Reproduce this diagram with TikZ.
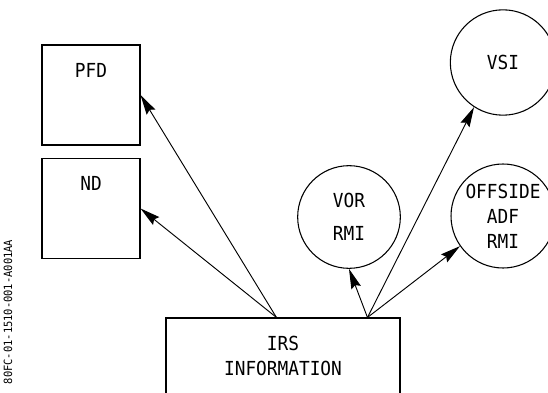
\documentclass[tikz,border=0pt]{standalone}
\usepackage{fontspec}
\newfontfamily\cad[FakeStretch=0.92]{DejaVu Sans Mono}
\usetikzlibrary{arrows.meta}
\begin{document}
\begin{tikzpicture}[x=0.75pt,y=-0.75pt,
  lbl/.style={font=\cad\fontsize{14.5}{18.75}\selectfont},
  boxnode/.style={draw,line width=0.8pt,minimum width=73.5pt,minimum height=75pt,inner sep=0pt},
  instr/.style={draw,circle,line width=0.8pt,minimum size=77pt,inner sep=0pt,align=center,lbl},
  conn/.style={line width=0.7pt,-{Stealth[length=15pt,width=7.5pt,inset=2pt]}}]
\clip (0,0) rectangle (548,392);
\fill[white] (0,0) rectangle (548,392);
% boxes
\node[boxnode,label={[anchor=north,inner sep=0pt,yshift=-14pt,lbl]north:PFD}] (pfd) at (91,95) {};
\node[boxnode,label={[anchor=north,inner sep=0pt,yshift=-13.5pt,lbl]north:ND}] (nd) at (91,208.5) {};
\node[boxnode,minimum width=175.5pt,minimum height=69pt,
  label={[anchor=north,inner sep=0pt,yshift=-14pt,lbl,align=center]north:IRS\\INFORMATION}] (irs) at (283,364) {};
% circles
\node[instr] (vor) at (349,217) {VOR\\[6pt]RMI};
\node[instr,minimum size=79pt] (vsi) at (503,62.5) {VSI};
\node[instr,minimum size=78pt] (off) at (503,216) {OFFSIDE\\ADF\\RMI};
% side reference text
\node[rotate=90,font=\cad\fontsize{8.5}{10}\selectfont,inner sep=0pt] (ref) at (8,312) {80FC-01-1510-001-A001AA};
% connectors
\draw[conn] ([xshift=83.25pt]irs.north west) -- (pfd.east);
\draw[conn] ([xshift=83.25pt]irs.north west) -- (nd.east);
\draw[conn] ([xshift=151.5pt]irs.north west) -- (vor.south);
\draw[conn] ([xshift=151.5pt]irs.north west) -- (vsi.237);
\draw[conn] ([xshift=151.5pt]irs.north west) -- (off.215);
\end{tikzpicture}
\end{document}
